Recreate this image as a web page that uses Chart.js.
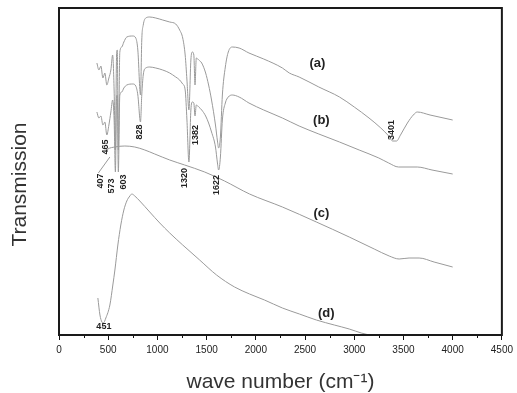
<!DOCTYPE html>
<html lang="en">
<head>
<meta charset="UTF-8">
<title>FTIR spectra (a)-(d)</title>
<script src="https://cdn.jsdelivr.net/npm/chart.js"></script>
<style>
  html, body { margin: 0; padding: 0; background: #fff; }
  #wrap { width: 517px; height: 393px; }
</style>
</head>
<body>
<div id="wrap"><canvas id="ftir" width="517" height="393"></canvas></div>
<script>
// wave number (cm-1) and transmission (arbitrary units)
const waveA = [385, 405, 426, 446, 466, 486, 507, 527, 545, 560, 573, 585, 592, 603, 618, 638, 659, 689, 750, 780, 801, 828, 841, 856, 882, 922, 983, 1054, 1125, 1186, 1226, 1257, 1282, 1300, 1320, 1340, 1355, 1370, 1382, 1395, 1420, 1450, 1490, 1520, 1550, 1590, 1610, 1622, 1640, 1660, 1690, 1720, 1760, 1830, 1930, 2080, 2270, 2340, 2440, 2640, 2850, 3000, 3150, 3270, 3350, 3390, 3430, 3470, 3540, 3600, 3640, 3770, 4000];
const transA = [272, 265, 269, 257, 262, 250, 257, 265, 280, 245, 185, 280, 285, 185, 283, 288, 293, 298, 299, 297, 285, 240, 295, 310, 317, 318, 317, 315, 313, 311, 305, 297, 280, 255, 225, 275, 283, 280, 250, 277, 275, 272, 262, 250, 235, 210, 194, 187, 198, 240, 268, 283, 288, 287, 282, 276, 267, 262, 258, 248, 238, 228, 217, 207, 199, 194, 194, 200, 212, 220, 223, 220, 215];

const waveB = [385, 405, 426, 446, 466, 486, 507, 527, 545, 560, 573, 585, 592, 603, 618, 638, 659, 689, 750, 780, 801, 828, 841, 856, 882, 922, 983, 1054, 1125, 1186, 1226, 1257, 1282, 1300, 1320, 1340, 1355, 1370, 1382, 1395, 1420, 1450, 1490, 1520, 1550, 1590, 1610, 1622, 1640, 1660, 1690, 1720, 1760, 1830, 1930, 2080, 2270, 2440, 2640, 2850, 3050, 3250, 3350, 3450, 3640, 3790, 4000];
const transB = [223, 217, 219, 210, 213, 200, 210, 223, 235, 215, 163, 238, 240, 163, 240, 243, 247, 250, 251, 249, 240, 213, 240, 260, 267, 268, 267, 265, 262, 258, 255, 251, 245, 215, 173, 225, 233, 232, 219, 230, 228, 225, 219, 212, 203, 188, 172, 165, 178, 215, 232, 238, 240, 238, 232, 225, 217, 209, 201, 193, 185, 177, 172, 168, 168, 165, 161];

const waveC = [456, 497, 568, 669, 770, 872, 973, 1125, 1277, 1480, 1682, 1936, 2270, 2615, 2949, 3203, 3355, 3456, 3557, 3659, 3811, 4000];
const transC = [182, 186, 188, 189, 188, 185, 181, 175, 170, 163, 154, 141, 128, 113, 98, 86, 79, 76, 77, 77, 73, 68];

const waveD = [395, 416, 436, 451, 476, 517, 547, 568, 598, 628, 659, 689, 720, 740, 770, 821, 922, 1024, 1125, 1257, 1429, 1601, 1784, 1936, 2088, 2270, 2443, 2615, 2797, 2949, 3071, 3152];
const transD = [37, 20, 13, 12, 17, 30, 50, 65, 90, 110, 125, 134, 139, 141, 139, 134, 123, 112, 102, 90, 75, 60, 48, 41, 35, 27, 21, 15, 10, 6, 2, 0];

const curveNames = ['(a)', '(b)', '(c)', '(d)'];
const curveNameAt = [[2625, 272], [2666, 215], [2666, 122], [2716, 22]];

const peakLabels = ['407', '465', '573', '603', '828', '1320', '1382', '1622', '3401'];
const peakLabelAt = [[426, 154], [476, 188], [537, 149], [659, 153], [821, 203], [1277, 157], [1389, 200], [1601, 150], [3375, 205]];
const dLabel = '451';
const dLabelAt = [456, 8];

function pts(xs, ys) {
  return xs.map((v, i) => ({ x: v, y: ys[i] }));
}

const lineStyle = {
  borderColor: '#9a9a9a',
  borderWidth: 1,
  pointRadius: 0,
  fill: false,
  cubicInterpolationMode: 'monotone'
};

const decorations = {
  id: 'decorations',
  afterDraw(chart) {
    const { ctx, chartArea: a, scales: { x, y } } = chart;
    ctx.save();

    // minor ticks on the wave number axis
    ctx.strokeStyle = '#111';
    ctx.lineWidth = 1;
    for (let v = 250; v < 4500; v += 500) {
      const px = Math.round(x.getPixelForValue(v)) + 0.5;
      ctx.beginPath();
      ctx.moveTo(px, a.bottom);
      ctx.lineTo(px, a.bottom + 3);
      ctx.stroke();
    }

    // frame
    ctx.lineWidth = 2;
    ctx.strokeStyle = '#1a1a1a';
    ctx.strokeRect(a.left, a.top, a.right - a.left, a.bottom - a.top);

    // leader from the 407 label
    ctx.lineWidth = 1;
    ctx.strokeStyle = '#999';
    ctx.beginPath();
    ctx.moveTo(x.getPixelForValue(400), y.getPixelForValue(162));
    ctx.lineTo(x.getPixelForValue(517), y.getPixelForValue(178));
    ctx.stroke();

    // peak labels
    ctx.fillStyle = '#222';
    ctx.font = 'bold 9px "Liberation Sans", Arial, sans-serif';
    ctx.textAlign = 'center';
    ctx.textBaseline = 'middle';
    peakLabels.forEach((t, i) => {
      const [v, tr] = peakLabelAt[i];
      ctx.save();
      ctx.translate(x.getPixelForValue(v), y.getPixelForValue(tr));
      ctx.rotate(-Math.PI / 2);
      ctx.fillText(t, 0, 0);
      ctx.restore();
    });
    ctx.fillText(dLabel, x.getPixelForValue(dLabelAt[0]), y.getPixelForValue(dLabelAt[1]));

    // curve names
    ctx.font = 'bold 13px "Liberation Sans", Arial, sans-serif';
    curveNames.forEach((t, i) => {
      ctx.fillText(t, x.getPixelForValue(curveNameAt[i][0]), y.getPixelForValue(curveNameAt[i][1]));
    });

    // y axis title
    ctx.font = '21px "Liberation Sans", Arial, sans-serif';
    ctx.fillStyle = '#333';
    ctx.translate(20, (a.top + a.bottom) / 2 + 13);
    ctx.rotate(-Math.PI / 2);
    ctx.fillText('Transmission', 0, 0);
    ctx.restore();
  }
};

new Chart(document.getElementById('ftir'), {
  type: 'line',
  data: {
    datasets: [
      Object.assign({ label: '(a)', data: pts(waveA, transA) }, lineStyle),
      Object.assign({ label: '(b)', data: pts(waveB, transB) }, lineStyle),
      Object.assign({ label: '(c)', data: pts(waveC, transC) }, lineStyle),
      Object.assign({ label: '(d)', data: pts(waveD, transD) }, lineStyle)
    ]
  },
  options: {
    responsive: false,
    animation: false,
    devicePixelRatio: 1,
    layout: { padding: { top: 8, right: 14, left: 0, bottom: 0 } },
    plugins: { legend: { display: false }, tooltip: { enabled: false } },
    scales: {
      x: {
        type: 'linear',
        min: 0,
        max: 4500,
        afterFit: s => { s.height = 58; },
        border: { display: false },
        grid: { drawOnChartArea: false, drawTicks: true, tickLength: 5, color: '#111' },
        ticks: {
          stepSize: 500,
          padding: 4,
          color: '#222',
          font: { family: '"Liberation Sans", Arial, sans-serif', size: 10 },
          callback: v => String(v)
        },
        title: {
          display: true,
          text: 'wave number (cm\u207B\u00B9)',
          color: '#333',
          padding: { top: 0, bottom: 0 },
          font: { family: '"Liberation Sans", Arial, sans-serif', size: 21, lineHeight: 1 }
        }
      },
      y: {
        min: 0,
        max: 327,
        afterFit: s => { s.width = 59; },
        border: { display: false },
        grid: { display: false },
        ticks: { display: false }
      }
    }
  },
  plugins: [decorations]
});
</script>
</body>
</html>
